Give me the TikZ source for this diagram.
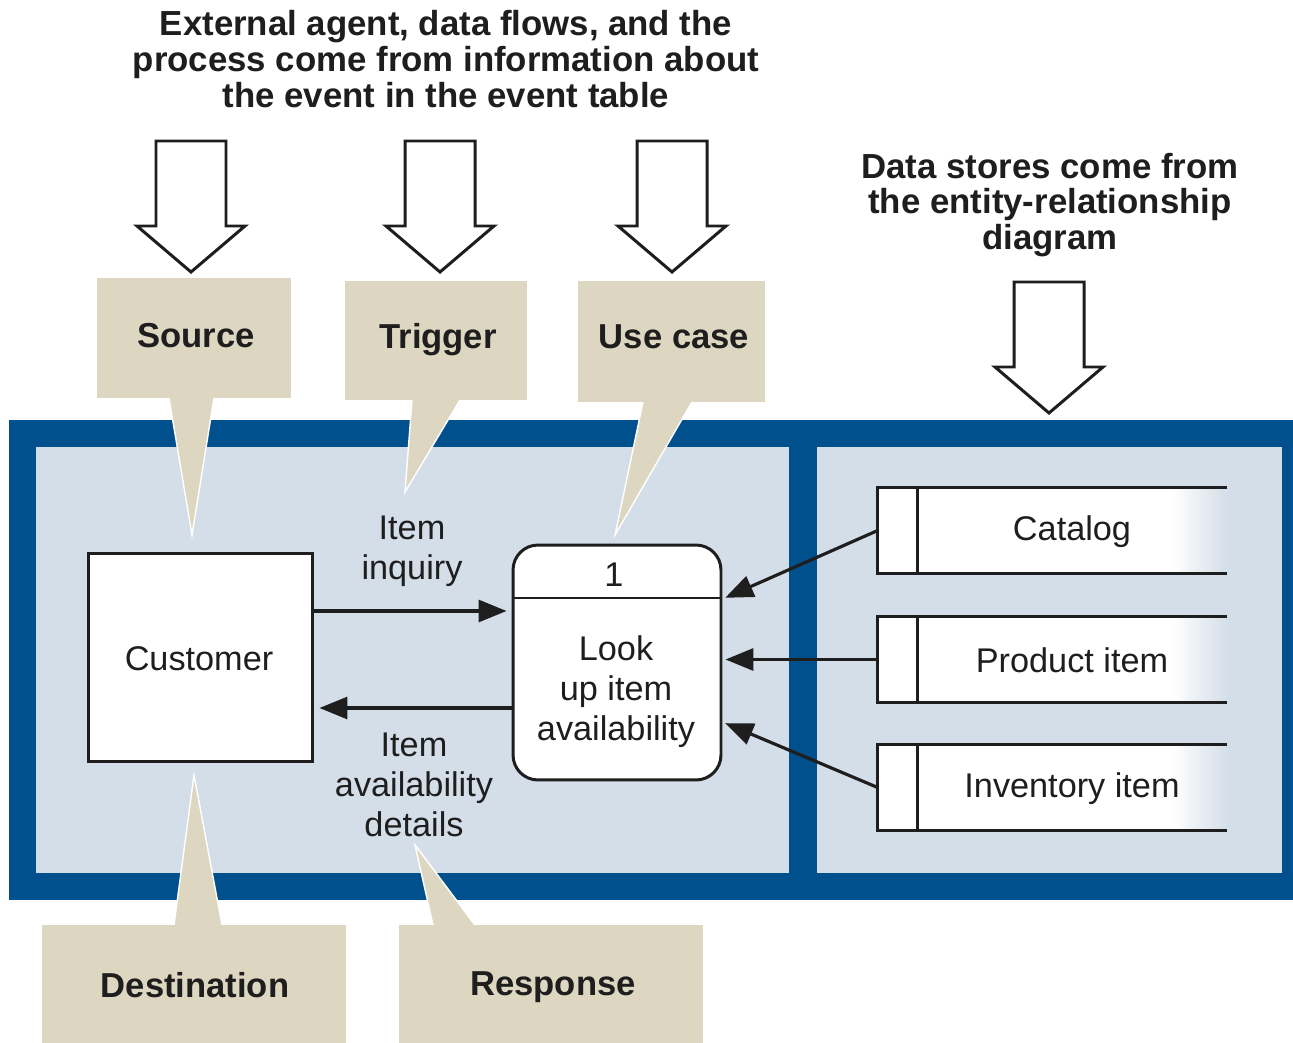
\documentclass[tikz,border=0pt]{standalone}
\usepackage{fontspec}
\setmainfont{Liberation Sans}
\usetikzlibrary{arrows.meta}
\definecolor{frameblue}{RGB}{0,80,142}
\definecolor{panel}{RGB}{212,222,232}
\definecolor{tagtan}{RGB}{221,214,192}
\definecolor{ink}{RGB}{30,30,30}

\begin{document}
\begin{tikzpicture}[x=0.02cm,y=-0.02cm,
  heading/.style={font=\fontsize{19.8}{20.4}\selectfont\bfseries, align=center, text=ink, inner sep=0pt},
  tag/.style={fill=tagtan, inner sep=0pt, text=ink, font=\fontsize{19.7}{22}\selectfont\bfseries},
  tagtext/.style={inner sep=0pt, text=ink, font=\fontsize{19.7}{22}\selectfont\bfseries, text height=1.45ex, text depth=0.3ex},
  pointer/.style={fill=tagtan},
  pointeredge/.style={draw=white, line width=0.8pt},
  lbl/.style={font=\fontsize{19.5}{22.7}\selectfont, align=center, text=ink, inner sep=0pt},
  boxline/.style={line width=1.7pt, draw=ink},
  flow/.style={line width=1.8pt, draw=ink, -{Triangle[length=0.56cm,width=0.44cm]}},
  store/.style={minimum width=6.98cm, minimum height=1.7cm, inner sep=0pt},
  blockarrow/.pic={
    \draw[line width=1.7pt, draw=ink, fill=white, line join=miter]
      (-35,0) -- (-35,85) -- (-54,85) -- (0,131) -- (54,85) -- (35,85) -- (35,0) -- cycle;
  }
]
\useasboundingbox (0,0) rectangle (1293,1043);
\fill[white] (0,0) rectangle (1293,1043);

% frame and the two panels
\fill[frameblue] (9,420) rectangle (1293,900);
\fill[panel] (36,447) rectangle (789,873);
\fill[panel] (817,447) rectangle (1282,873);

% headings
\node[heading] (h1) at (446,59) {External agent, data flows, and the\\process come from information about\\the event in the event table};
\node[heading] (h2) at (1050,205) {Data stores come from\\the entity-relationship\\diagram};

% block arrows
\pic at (191,141) {blockarrow};
\pic at (440,141) {blockarrow};
\pic at (672,141) {blockarrow};
\pic at (1049,282) {blockarrow};

% callout tags
\node[tag, minimum width=3.88cm, minimum height=2.40cm] (src) at (194,338) {};
\node[tag, minimum width=3.64cm, minimum height=2.38cm] (trg) at (436,340.5) {};
\node[tag, minimum width=3.74cm, minimum height=2.42cm] (uc) at (671.5,341.5) {};
\node[tag, minimum width=6.08cm, minimum height=2.40cm] (dst) at (194,985) {};
\node[tag, minimum width=6.08cm, minimum height=2.40cm] (rsp) at (551,985) {};
\node[tagtext] (srct) at (196,342) {Source};
\node[tagtext] (trgt) at (438,343) {Trigger};
\node[tagtext] (uct) at (674,343) {Use case};
\node[tagtext] (dstt) at (195,992) {Destination};
\node[tagtext] (rspt) at (553,990) {Response};

% callout pointers
\fill[pointer] (169,397) -- (214,397) -- (192,535) -- cycle;
\draw[pointeredge] (169,398) -- (192,535) -- (214,398);
\fill[pointer] (412,399) -- (460,399) -- (405,492) -- cycle;
\draw[pointeredge] (412,400) -- (405,492) -- (460,400);
\fill[pointer] (643,401) -- (692,401) -- (615,535) -- cycle;
\draw[pointeredge] (643,402) -- (615,535) -- (692,402);
\fill[pointer] (174,926) -- (222,926) -- (194,775) -- cycle;
\draw[pointeredge] (174,925) -- (194,775) -- (222,925);
\fill[pointer] (433,926) -- (475,926) -- (415,845) -- cycle;
\draw[pointeredge] (433,925) -- (415,845) -- (475,925);

% external agent
\node[boxline, fill=white, minimum width=4.5cm, minimum height=4.18cm, inner sep=0pt] (cust) at (200.5,657.5) {};
\node[lbl] (custt) at (199,659) {Customer};

% process
\node[boxline, fill=white, rounded corners=0.5cm, minimum width=4.16cm, minimum height=4.7cm, inner sep=0pt] (proc) at (617,662.5) {};
\coordinate (divy) at (0,598);
\draw[boxline] (proc.west |- divy) -- (proc.east |- divy);
\node[lbl] (pnum) at (614,575) {1};
\node[lbl] (pname) at (616,692) {Look\\up item\\availability};

% data stores
\foreach \nm/\txt/\yc in {cat/Catalog/530.5, prod/Product item/659.5, inv/Inventory item/787.5}{
  \fill[white] (878,\yc-42.5) rectangle (1173,\yc+42.5);
  \shade[left color=white, right color=panel] (1172,\yc-42.5) rectangle (1227,\yc+42.5);
  \node[store] (\nm) at (1052.5,\yc) {};
  \draw[boxline] (\nm.north east) -- (\nm.north west) -- (\nm.south west) -- (\nm.south east);
  \draw[boxline] (917,\yc-42.5) -- (917,\yc+42.5);
  \node[lbl] (\nm-t) at (1072,\yc+1) {\txt};
}

% data flows
\coordinate (yIn) at (0,611);
\coordinate (yOut) at (0,708);
\coordinate (yCat) at (0,599);
\coordinate (yInv) at (0,722);
\draw[flow, shorten >=0.1cm] (cust.east |- yIn) -- (proc.west |- yIn);
\draw[flow, shorten >=0.1cm] (proc.west |- yOut) -- (cust.east |- yOut);
\draw[flow, shorten >=0.06cm] (cat.west) -- (proc.east |- yCat);
\draw[flow, shorten >=0.06cm] (prod.west) -- (proc.east |- prod.west);
\draw[flow, shorten >=0.06cm] (inv.west) -- (proc.east |- yInv);

% flow labels
\node[lbl] (inq) at (412,551) {Item\\inquiry};
\node[lbl] (avl) at (414,785) {Item\\availability\\details};
\end{tikzpicture}
\end{document}
